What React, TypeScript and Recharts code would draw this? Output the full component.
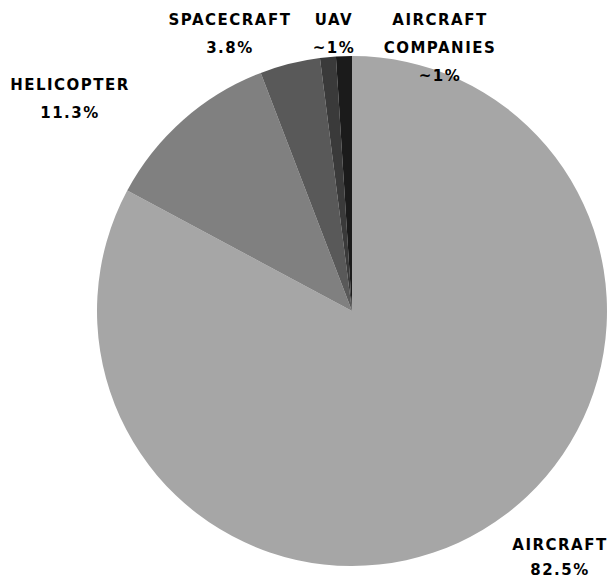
import { PieChart, Pie, Cell } from 'recharts';

const names = ['AIRCRAFT', 'HELICOPTER', 'SPACECRAFT', 'UAV', 'AIRCRAFT COMPANIES'];
const shares = [82.5, 11.3, 3.8, 1, 1];
const shareLabels = ['82.5%', '11.3%', '3.8%', '~1%', '~1%'];
const colors = ['#a6a6a6', '#808080', '#595959', '#3a3a3a', '#1b1b1b'];

// label anchor (centre of first line) relative to the pie centre, plus line gap
const labelOffsets = [
  [208, 234, 25],
  [-282, -226, 28],
  [-122, -291, 28],
  [-18, -291, 28],
  [88, -291, 28],
];

const data = names.map((n, i) => ({ name: n, value: shares[i], pct: shareLabels[i] }));

const renderLabel = (props: any) => {
  const { cx, cy, index } = props;
  const [dx, dy, gap] = labelOffsets[index];
  const lines = names[index] === 'AIRCRAFT COMPANIES'
    ? ['AIRCRAFT', 'COMPANIES', shareLabels[index]]
    : [names[index], shareLabels[index]];
  return (
    <text
      x={cx + dx}
      y={cy + dy}
      textAnchor="middle"
      dominantBaseline="central"
      fill="#000"
      style={{ fontFamily: 'DejaVu Sans', fontWeight: 'bold', fontSize: 15, letterSpacing: 1.5 }}
    >
      {lines.map((l, i) => (
        <tspan key={i} x={cx + dx} dy={i === 0 ? 0 : gap}>{l}</tspan>
      ))}
    </text>
  );
};

export default function App() {
  return (
    <div style={{ position: 'absolute', left: 0, top: 0, width: 616, height: 578, background: '#fff' }}>
      <PieChart width={616} height={578} margin={{ top: 0, right: 0, bottom: 0, left: 0 }}>
        <Pie
          data={data}
          dataKey="value"
          nameKey="name"
          cx={352}
          cy={311}
          outerRadius={255}
          startAngle={90}
          endAngle={-270}
          stroke="none"
          label={renderLabel}
          labelLine={false}
          isAnimationActive={false}
        >
          {data.map((d, i) => (
            <Cell key={d.name} fill={colors[i]} />
          ))}
        </Pie>
      </PieChart>
    </div>
  );
}
